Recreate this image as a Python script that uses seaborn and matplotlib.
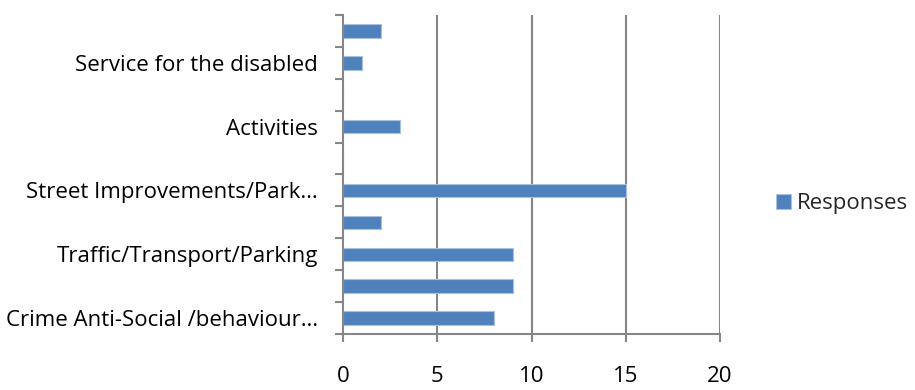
import matplotlib
matplotlib.use("Agg")
import matplotlib.pyplot as plt
import seaborn as sns
import pandas as pd
import numpy as np

# Response counts per topic, listed top to bottom; only every other topic is labelled on the axis
tick_labels = ["", "Service for the disabled", "", "Activities", "",
               "Street Improvements/Park…", "", "Traffic/Transport/Parking", "",
               "Crime Anti-Social /behaviour…"]
responses = [2, 1, 0, 3, 0, 15, 2, 9, 9, 8]
x_ticks = [0, 5, 10, 15, 20]
series_name = "Responses"

sns.set_theme(style="white")
plt.rcParams["font.family"] = ["Open Sans", "DejaVu Sans"]

df = pd.DataFrame({"slot": np.arange(len(responses)), "value": responses})

fig = plt.figure(figsize=(9.15, 3.9), dpi=100)
ax = fig.add_axes([0.375, 0.1436, 0.412, 0.818])

grid_color = "#868686"
bar_color = "#4F81BD"
fs = 16

sns.barplot(data=df, x="value", y="slot", orient="y", native_scale=True,
            width=0.42, color=bar_color, edgecolor="#a9c0df", linewidth=0.8,
            saturation=1, label=series_name, ax=ax, zorder=3)

ax.set_xlim(0, 20)
ax.set_ylim(len(responses) - 0.5, -0.5)
ax.set_xticks(x_ticks)
ax.set_xticklabels([str(t) for t in x_ticks], fontsize=fs, color="black")
ax.set_yticks(df["slot"])
ax.set_yticklabels(tick_labels, fontsize=fs, color="black")
ax.set_yticks(np.arange(-0.5, len(responses)), minor=True)

ax.set_xlabel("")
ax.set_ylabel("")

# vertical gridlines
for t in x_ticks[1:]:
    ax.axvline(t, color=grid_color, linewidth=1.5, zorder=1)

for side in ["top", "right"]:
    ax.spines[side].set_visible(False)
for side in ["left", "bottom"]:
    ax.spines[side].set_color(grid_color)
    ax.spines[side].set_linewidth(1.5)
    ax.spines[side].set_zorder(4)

ax.tick_params(axis="y", which="major", length=0, pad=18)
ax.tick_params(axis="y", which="minor", length=5.8, width=1.5, color=grid_color, direction="out", left=True)
ax.tick_params(axis="x", which="major", length=5.8, width=1.5, color=grid_color, direction="out", bottom=True, pad=17.5)

leg = ax.legend(loc="center left", bbox_to_anchor=(0.848, 0.477), bbox_transform=fig.transFigure,
                frameon=False, fontsize=fs, handlelength=0.7, handleheight=0.7,
                handletextpad=0.25, borderpad=0, borderaxespad=0)

fig.savefig("out.png", dpi=100)
